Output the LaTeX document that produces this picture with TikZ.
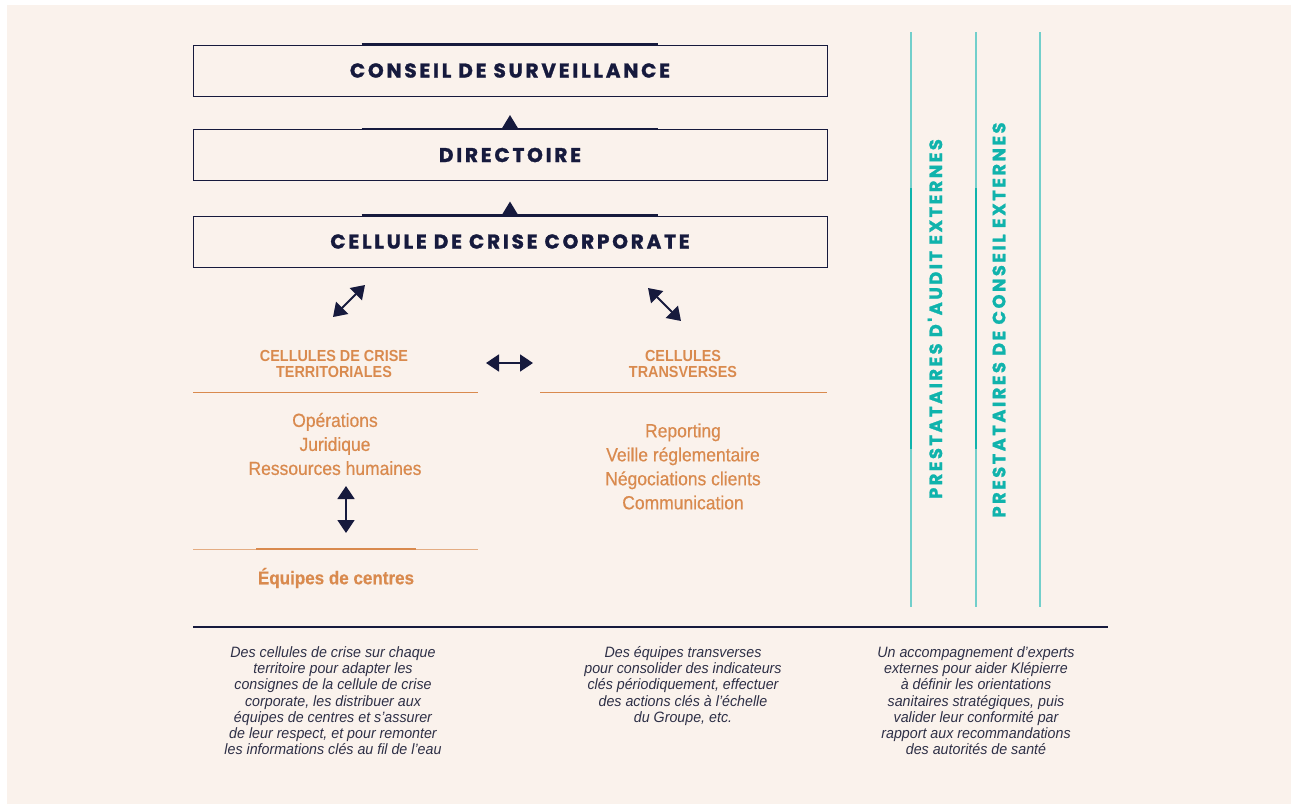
\documentclass[tikz,border=0pt]{standalone}
\usepackage{fontspec}
\usetikzlibrary{arrows.meta,calc}
\setmainfont{Liberation Sans}
\newfontfamily\headfont[LetterSpace=14,BoldFeatures={FakeBold=1.4}]{Poppins}
\newfontfamily\condfont[FakeStretch=0.9]{Liberation Sans}
\newfontfamily\itemfont[FakeStretch=0.92,FakeBold=0.5]{Liberation Sans}
\newfontfamily\notefont[FakeStretch=0.95]{Liberation Sans}
\definecolor{navy}{HTML}{161A3D}
\definecolor{cream}{HTML}{FAF2EC}
\definecolor{rust}{HTML}{D98A4E}
\definecolor{cyanline}{HTML}{10B3AC}
\definecolor{cyanthin}{HTML}{72CFCB}
\definecolor{notegray}{HTML}{2E3047}

\begin{document}
\begin{tikzpicture}[x=1pt,y=-1pt,
  box/.style={draw=navy, line width=0.9pt, minimum width=634, minimum height=51,
    font=\headfont\bfseries\fontsize{20}{22}\selectfont, text=navy},
  bar/.style={navy, line width=2.6pt},
  dblarrow/.style={navy, line width=1.8pt, {Triangle[length=13pt,width=17pt]}-{Triangle[length=13pt,width=17pt]}},
  subhead/.style={align=center, text=rust, font=\condfont\bfseries\fontsize{16}{16}\selectfont},
  items/.style={align=center, text=rust, font=\itemfont\fontsize{19}{24}\selectfont},
  rule/.style={rust, line width=0.8pt},
  note/.style={align=center, anchor=north, text=notegray, font=\notefont\itshape\fontsize{15}{16.2}\selectfont},
  vtext/.style={rotate=90, text=cyanline, font=\headfont\bfseries\fontsize{17.8}{18}\selectfont}]

  % Background
  \useasboundingbox (0,0) rectangle (1291,804);
  \fill[white] (0,0) rectangle (1291,804);
  \fill[cream] (7,5) rectangle (1291,804);

  % Governance boxes
  \node[box] (conseil) at (510,70.5) {CONSEIL DE SURVEILLANCE};
  \node[box] (directoire) at (510,155) {DIRECTOIRE};
  \node[box] (corporate) at (510,241.5) {CELLULE DE CRISE CORPORATE};

  % Top bars and triangles
  \foreach \b in {conseil,directoire,corporate}
    \draw[bar] ($(\b.north west)+(169,0)$) -- ($(\b.north east)+(-169,0)$);
  \foreach \b in {directoire,corporate}
    \fill[navy] ($(\b.north)+(-8.5,0)$) -- ($(\b.north)+(0,-14)$) -- ($(\b.north)+(8.5,0)$) -- cycle;

  % Crisis cells
  \node[subhead] (terr) at (334,364) {CELLULES DE CRISE\\TERRITORIALES};
  \node[subhead] (trans) at (683,364) {CELLULES\\TRANSVERSES};
  \draw[rule] (193,392) -- (478,392);
  \draw[rule] (540,392) -- (827,392);
  \node[items] (territems) at (335,444) {Opérations\\Juridique\\Ressources humaines};
  \node[items] (transitems) at (683,466.5) {Reporting\\Veille réglementaire\\Négociations clients\\Communication};

  % Centre teams
  \draw[rule, rust!70] (193,549) -- (478,549);
  \draw[rust, line width=2pt] (256,549) -- (416,549);
  \node[items, font=\itemfont\bfseries\fontsize{18.5}{24}\selectfont] (centres) at (336,578) {Équipes de centres};

  % Double arrows
  \coordinate (a1s) at (333,317);
  \coordinate (a1e) at (365,285);
  \coordinate (a2s) at (648,288);
  \coordinate (a2e) at (681,321);
  \coordinate (a3s) at (486,363);
  \coordinate (a3e) at (533,363);
  \coordinate (a4s) at (346,486);
  \coordinate (a4e) at (346,533);
  \draw[dblarrow] (a1s) -- (a1e);
  \draw[dblarrow] (a2s) -- (a2e);
  \draw[dblarrow] (a3s) -- (a3e);
  \draw[dblarrow] (a4s) -- (a4e);

  % External providers
  \foreach \x in {911,976,1040}
    \draw[cyanthin, line width=1.2pt] (\x,32) -- (\x,607);
  \foreach \x in {911,976}
    \draw[cyanline, line width=2.6pt] (\x,188) -- (\x,449);
  \node[vtext] (audit) at (935,319) {PRESTATAIRES D'AUDIT EXTERNES};
  \node[vtext] (conseilext) at (999,320) {PRESTATAIRES DE CONSEIL EXTERNES};

  % Notes
  \draw[navy, line width=1.2pt] (193,627) -- (1108,627);
  \node[note] (terrnote) at (333,643) {Des cellules de crise sur chaque\\territoire pour adapter les\\consignes de la cellule de crise\\corporate, les distribuer aux\\équipes de centres et s’assurer\\de leur respect, et pour remonter\\les informations clés au fil de l’eau};
  \node[note] (transnote) at (683,643) {Des équipes transverses\\pour consolider des indicateurs\\clés périodiquement, effectuer\\des actions clés à l’échelle\\du Groupe, etc.};
  \node[note] (extnote) at (976,643) {Un accompagnement d’experts\\externes pour aider Klépierre\\à définir les orientations\\sanitaires stratégiques, puis\\valider leur conformité par\\rapport aux recommandations\\des autorités de santé};
\end{tikzpicture}
\end{document}
